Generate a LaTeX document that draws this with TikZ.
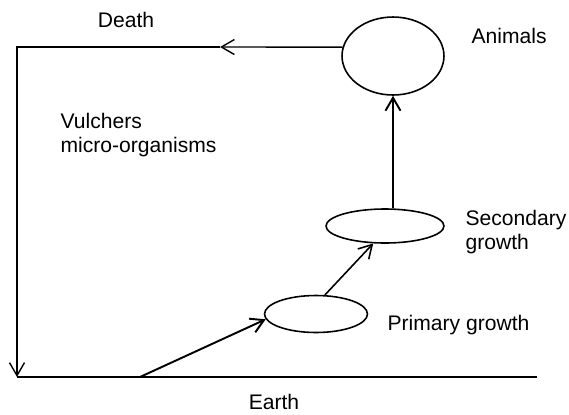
\documentclass[tikz,border=0pt]{standalone}
\usepackage{fontspec}
\setmainfont{Liberation Sans}
\usetikzlibrary{arrows.meta,shapes.geometric}

\begin{document}
\begin{tikzpicture}[x=.02cm,y=-.02cm,line width=.7pt,every node/.style={font=\fontsize{12}{13.6}\selectfont,inner sep=0pt},stage/.style={draw,ellipse,line width=.9pt},tag/.style={anchor=base west},note/.style={align=left,anchor=north west},flow/.style={-{Straight Barb[length=2.6mm,width=3mm]},line width=1.1pt},back/.style={-{Straight Barb[length=2.6mm,width=3mm]},line width=.8pt}]
\path[use as bounding box] (0,0) rectangle (569,414);

\node[stage,minimum width=2.04cm,minimum height=1.56cm] (animals) at (393,56) {};
\node[stage,minimum width=2.36cm,minimum height=.68cm] (secondary) at (385,226) {};
\node[stage,minimum width=2.06cm,minimum height=.74cm] (primary) at (316,314) {};

\node[anchor=base] (death) at (126,27) {Death};
\node[tag] (animalstxt) at (471,43) {Animals};
\node[note] (decomp) at (60,113) {Vulchers\\micro-organisms};
\node[note] (secondarytxt) at (465,210) {Secondary\\growth};
\node[tag] (primarytxt) at (387,330) {Primary growth};
\node[anchor=base] (earth) at (274,409) {Earth};

\coordinate (deathtip) at (220,47);
\coordinate (corner) at (17,47);
\coordinate (groundL) at (17,377);
\coordinate (groundR) at (537,377);
\coordinate (root) at (140,377);

\draw[back] (animals.170) -- (deathtip);
\draw[back] (deathtip) -- (corner) -- (groundL);
\draw[line width=1pt] (groundL) -- (groundR);
\draw[flow] (root) -- (primary.186);
\draw[flow,line width=.9pt] (primary.65) -- (secondary.236);
\draw[flow] (secondary.north -| animals.south) -- (animals.south);

\end{tikzpicture}
\end{document}
